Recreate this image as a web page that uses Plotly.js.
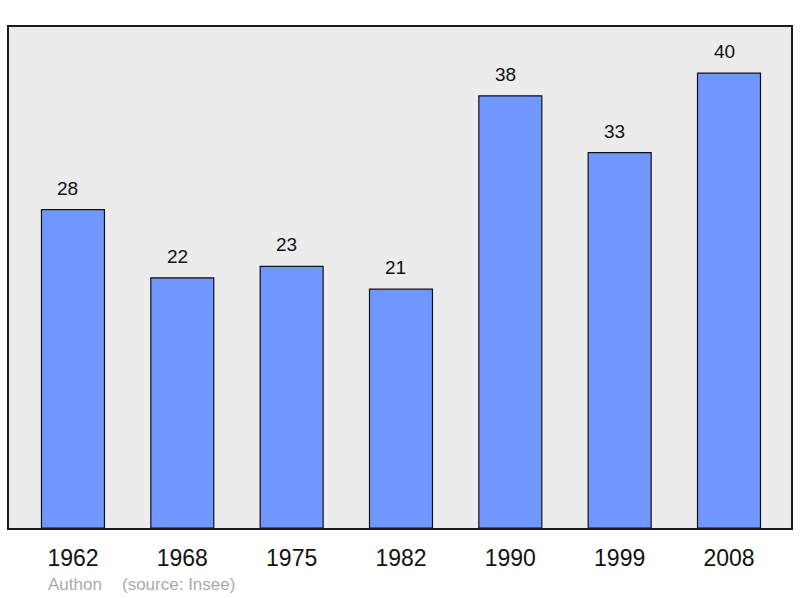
<!DOCTYPE html>
<html>
<head>
<meta charset="utf-8">
<script src="https://cdn.plot.ly/plotly-3.0.1.min.js"></script>
<style>
  html, body { margin: 0; padding: 0; background: #fff; }
  #plot { width: 800px; height: 598px; }
</style>
</head>
<body>
<div id="plot"></div>
<script>
var years = ['1962', '1968', '1975', '1982', '1990', '1999', '2008'];
var population = [28, 22, 23, 21, 38, 33, 40];
var footer_left = 'Authon';
var footer_right = '(source: Insee)';

var plotDiv = document.getElementById('plot');

var bar_trace = {
   x: years,
   y: population,
   type: 'bar',
   width: 0.576,
   marker: {
      color: '#7097ff',
      line: {width: 1.2, color: '#111'}
   },
   hoverinfo: 'x+y'
};

// value labels above each bar (x by category index, numeric-looking names confuse annotations)
var annotations = years.map(function (yr, i) {
   return {
      x: i,
      y: population[i],
      xref: 'x',
      yref: 'y',
      text: String(population[i]),
      showarrow: false,
      yanchor: 'bottom',
      yshift: 9,
      xshift: -5,
      font: {family: 'Liberation Sans', size: 19, color: '#111'}
   };
});

annotations.push({
   x: 37 / 782, y: -0.112, xref: 'paper', yref: 'paper',
   xanchor: 'left', yanchor: 'middle', showarrow: false,
   text: footer_left,
   font: {family: 'Liberation Sans', size: 17, color: '#aaaaaa'}
});
annotations.push({
   x: 111 / 782, y: -0.112, xref: 'paper', yref: 'paper',
   xanchor: 'left', yanchor: 'middle', showarrow: false,
   text: footer_right,
   font: {family: 'Liberation Sans', size: 17, color: '#aaaaaa'}
});

var layout = {
   width: 800,
   height: 598,
   margin: {l: 9, r: 9, t: 27, b: 70},
   paper_bgcolor: '#ffffff',
   plot_bgcolor: '#ececec',
   showlegend: false,
   xaxis: {
      type: 'category',
      range: [-0.585, 6.567],
      showgrid: false,
      zeroline: false,
      showline: true,
      mirror: true,
      linewidth: 2,
      linecolor: '#1a1a1a',
      ticks: 'outside',
      ticklen: 8,
      tickcolor: 'rgba(0,0,0,0)',
      tickfont: {family: 'Liberation Sans', size: 23, color: '#111'}
   },
   yaxis: {
      range: [0, 44.05],
      showgrid: false,
      zeroline: false,
      showticklabels: false,
      showline: true,
      mirror: true,
      linewidth: 2,
      linecolor: '#1a1a1a'
   },
   annotations: annotations
};

Plotly.newPlot(plotDiv, [bar_trace], layout, {displayModeBar: false, staticPlot: true});
</script>
</body>
</html>
